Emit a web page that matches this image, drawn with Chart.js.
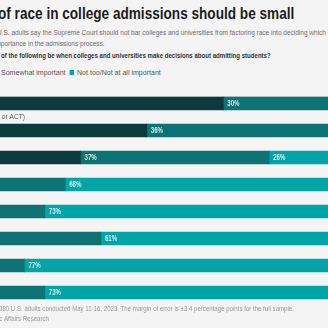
<!DOCTYPE html>
<html>
<head>
<meta charset="utf-8">
<script src="https://cdn.jsdelivr.net/npm/chart.js@4.4.0/dist/chart.umd.min.js"></script>
<style>
html, body { margin: 0; padding: 0; }
body {
    width: 328px; height: 328px; overflow: hidden; position: relative;
    background: #f4f4f4;
    font-family: "Liberation Sans", Arial, sans-serif;
}
.t { position: absolute; white-space: nowrap; line-height: 1; transform-origin: 0 0; }
#title { left: -2px; top: 6px; font-size: 16px; font-weight: bold; color: #1c1c1c; transform: scaleX(0.85); }
.sub { font-size: 7.4px; color: #6d6d6d; transform: scaleX(0.88); }
#q { left: 1px; top: 52px; font-size: 7.6px; font-weight: bold; color: #333; transform: scaleX(0.8); }
#legend { left: 1px; top: 69px; font-size: 8px; color: #555; transform: scaleX(0.88); }
.sq { display: inline-block; width: 5px; height: 5px; margin-right: 3px; }
.gap { display: inline-block; width: 5px; }
.pre { position: absolute; right: 100%; top: 0; }
#rule { position: absolute; left: 0; top: 96px; width: 328px; height: 1px; background: #dcdcdc; }
#wrap { position: absolute; left: -98px; top: 90px; width: 510px; height: 216px; }
.foot { font-size: 7px; color: #999; transform: scaleX(0.87); }
</style>
</head>
<body>
<div id="title" class="t">of race in college admissions should be small</div>
<div class="t sub" style="left:-3px; top:29px;">U.S. adults say the Supreme Court should not bar colleges and universities from factoring race into deciding which students to admit</div>
<div class="t sub" style="left:-6px; top:40px;">importance in the admissions process.</div>
<div id="q" class="t">of the following be when colleges and universities make decisions about admitting students?</div>
<div id="legend" class="t"></div>
<div id="rule"></div>
<div id="wrap"><canvas id="c"></canvas></div>
<div class="t foot" style="left:-1px; top:305px;">380 U.S. adults conducted May 11-16, 2023. The margin of error is ±3.4 percentage points for the full sample.</div>
<div class="t foot" style="left:4px; top:315px;"><span class="pre">Source: AP-NORC Center for Public&nbsp;</span>Affairs Research</div>
<script>
var categories = [
    "High school grades",
    "Standardized test scores (SAT or ACT)",
    "Extracurriculars",
    "Race or ethnicity",
    "Legacy status",
    "Athletic ability",
    "Gender",
    "Family donations"
];
var seriesNames = ["Very/Extremely important", "Somewhat important", "Not too/Not at all important"];
var veryImportant = [63, 48, 35, 10, 9, 12, 7, 9];
var somewhatImportant = [30, 36, 37, 22, 19, 27, 17, 19];
var notImportant = [6, 15, 26, 68, 73, 61, 77, 73];

var COLORS = ["#0c3a3d", "#0d7374", "#01a5a8"];
var LABEL_X = 9;

// legend: first item sits off the left edge like in the source
var lg = document.getElementById('legend');
var sq = function(i){ return '<span class="sq" style="background:' + COLORS[i] + '"></span>'; };
lg.innerHTML = '<span class="pre">' + sq(0) + seriesNames[0] + '<span class="gap"></span>' + sq(1) + '</span>' +
    seriesNames[1] + '<span class="gap"></span>' + sq(2) + seriesNames[2];

// condensed text: squeeze horizontally around the anchor point
var narrowText = function(ctx, text, x, y, k){
    ctx.save();
    ctx.translate(x, y);
    ctx.scale(k, 1);
    ctx.fillText(text, 0, 0);
    ctx.restore();
};

var barText = {
    id: 'barText',
    afterDatasetsDraw: function(chart){
        var ctx = chart.ctx;
        ctx.save();
        ctx.textBaseline = 'middle';
        ctx.textAlign = 'left';
        chart.data.datasets.forEach(function(ds, i){
            var meta = chart.getDatasetMeta(i);
            meta.data.forEach(function(bar, j){
                var p = bar.getProps(['x', 'y', 'base', 'height'], true);
                ctx.font = 'bold 8.5px "Liberation Sans", Arial, sans-serif';
                ctx.fillStyle = 'rgba(232,248,248,0.92)';
                narrowText(ctx, ds.data[j] + '%', Math.min(p.base, p.x) + 4, p.y + 0.5, 0.72);
                if (i === 0) {
                    ctx.font = '7.5px "Liberation Sans", Arial, sans-serif';
                    ctx.fillStyle = '#5a5a5a';
                    narrowText(ctx, chart.data.labels[j], chart.chartArea.left + LABEL_X, p.y - p.height / 2 - 7, 0.88);
                }
            });
        });
        ctx.restore();
    }
};

var series = [veryImportant, somewhatImportant, notImportant];
new Chart(document.getElementById('c').getContext('2d'), {
    type: 'bar',
    data: {
        labels: categories,
        datasets: series.map(function(d, i){
            return {
                label: seriesNames[i],
                data: d,
                backgroundColor: COLORS[i],
                borderWidth: 0,
                barThickness: 13
            };
        })
    },
    options: {
        indexAxis: 'y',
        responsive: true,
        maintainAspectRatio: false,
        animation: false,
        layout: { padding: 0 },
        plugins: { legend: { display: false }, tooltip: { enabled: false } },
        scales: {
            x: { stacked: true, min: 0, max: 100, display: false },
            y: { stacked: true, display: false }
        }
    },
    plugins: [barText]
});
</script>
</body>
</html>
